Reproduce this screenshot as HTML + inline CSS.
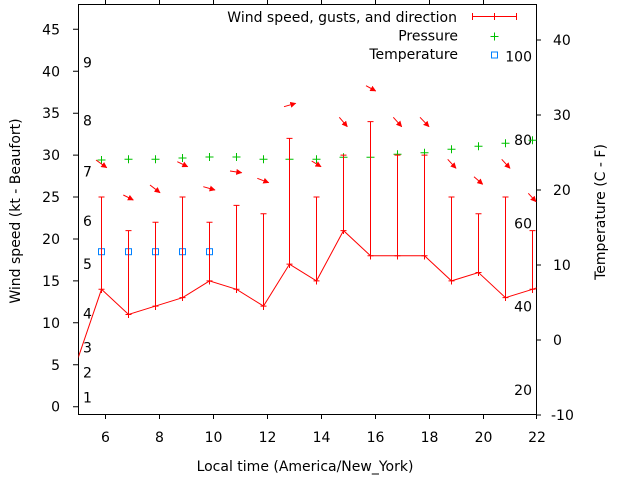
<!DOCTYPE html>
<html><head><meta charset="utf-8"><style>
html,body{margin:0;padding:0;background:#fff;}
svg{display:block;}
text{font-family:"DejaVu Sans","Liberation Sans",sans-serif;font-size:14px;fill:#000;}
</style></head><body>
<svg width="640" height="480" viewBox="0 0 640 480" xmlns="http://www.w3.org/2000/svg">
<defs>
<clipPath id="pc"><rect x="78.5" y="4.5" width="458" height="410"/></clipPath>
<marker id="ah" viewBox="0 0 10 10" refX="9" refY="5" markerWidth="6" markerHeight="6" markerUnits="userSpaceOnUse" orient="auto"><path d="M0,0 L10,5 L0,10 z" fill="#f00"/></marker>
</defs>
<rect width="640" height="480" fill="#fff"/>

<!-- frame -->
<g stroke="#000" stroke-width="1" fill="none">
<rect x="78.5" y="4.5" width="458" height="410"/>
<!-- left ticks -->
<path d="M73,406.7H78.5M73,364.8H78.5M73,322.8H78.5M73,280.9H78.5M73,239H78.5M73,197.05H78.5M73,155.1H78.5M73,113.2H78.5M73,71.3H78.5M73,29.3H78.5"/>
<!-- bottom ticks -->
<path d="M105.5,414.5V419M159.5,414.5V419M213.5,414.5V419M267.5,414.5V419M321.5,414.5V419M375.5,414.5V419M429.5,414.5V419M483.5,414.5V419M536.5,414.5V419"/>
<!-- top ticks -->
<path d="M105.5,0V4.5M159.5,0V4.5M213.5,0V4.5M267.5,0V4.5M321.5,0V4.5M375.5,0V4.5M429.5,0V4.5M483.5,0V4.5"/>
<!-- right ticks -->
<path d="M536.5,415H541M536.5,340H541M536.5,265H541M536.5,190H541M536.5,115H541M536.5,40H541"/>
</g>

<!-- left tick labels -->
<g text-anchor="end">
<text x="60" y="411.7">0</text>
<text x="60" y="369.8">5</text>
<text x="60" y="327.8">10</text>
<text x="60" y="285.9">15</text>
<text x="60" y="244">20</text>
<text x="60" y="202">25</text>
<text x="60" y="160.1">30</text>
<text x="60" y="118.2">35</text>
<text x="60" y="76.3">40</text>
<text x="60" y="34.3">45</text>
</g>
<!-- bottom tick labels -->
<g text-anchor="middle">
<text x="105.5" y="442">6</text>
<text x="159.5" y="442">8</text>
<text x="213.5" y="442">10</text>
<text x="267.5" y="442">12</text>
<text x="321.5" y="442">14</text>
<text x="375.5" y="442">16</text>
<text x="429.5" y="442">18</text>
<text x="483.5" y="442">20</text>
<text x="537" y="442">22</text>
</g>
<!-- right tick labels -->
<g>
<text x="551" y="420">-10</text>
<text x="553" y="345">0</text>
<text x="553" y="270">10</text>
<text x="553" y="195">20</text>
<text x="553" y="120">30</text>
<text x="553" y="45">40</text>
</g>
<!-- Fahrenheit labels -->
<g text-anchor="end">
<text x="532" y="61.7">100</text>
<text x="532" y="145">80</text>
<text x="532" y="228.3">60</text>
<text x="532" y="311.7">40</text>
<text x="532" y="395">20</text>
</g>
<!-- Beaufort labels -->
<g>
<text x="83" y="402.7">1</text>
<text x="83" y="377.7">2</text>
<text x="83" y="352.7">3</text>
<text x="83" y="318.5">4</text>
<text x="83" y="269">5</text>
<text x="83" y="226">6</text>
<text x="83" y="176.7">7</text>
<text x="83" y="125.7">8</text>
<text x="83" y="67.3">9</text>
</g>

<!-- axis titles -->
<text transform="translate(20,211) rotate(-90)" text-anchor="middle">Wind speed (kt - Beaufort)</text>
<text transform="translate(605,212) rotate(-90)" text-anchor="middle">Temperature (C - F)</text>
<text x="305" y="471" text-anchor="middle">Local time (America/New_York)</text>

<!-- legend -->
<g text-anchor="end">
<text x="457" y="22">Wind speed, gusts, and direction</text>
<text x="458" y="40.5">Pressure</text>
<text x="458" y="59">Temperature</text>
</g>
<g stroke="#f00" stroke-width="1" fill="none">
<path d="M472.5,16.5H516.5M472.5,13V20M516.5,13V20M494.5,13V20"/>
</g>
<path d="M490.5,36.5H498.5M494.5,32.5V40.5" stroke="#00c000" stroke-width="1" fill="none"/>
<rect x="491.5" y="52" width="6" height="6" stroke="#0080ff" stroke-width="1" fill="none"/>

<g clip-path="url(#pc)">
<!-- pressure -->
<g stroke="#00c000" stroke-width="1" fill="none">
<path d="M97.5,160H105.5M101.5,156V164"/>
<path d="M124.5,159.3H132.5M128.5,155.3V163.3"/>
<path d="M151.5,159.3H159.5M155.5,155.3V163.3"/>
<path d="M178.5,158H186.5M182.5,154V162"/>
<path d="M205.5,157H213.5M209.5,153V161"/>
<path d="M232.5,157H240.5M236.5,153V161"/>
<path d="M259.5,159.3H267.5M263.5,155.3V163.3"/>
<path d="M285.5,159.3H293.5M289.5,155.3V163.3"/>
<path d="M312.5,159.3H320.5M316.5,155.3V163.3"/>
<path d="M339.5,157.3H347.5M343.5,153.3V161.3"/>
<path d="M366.5,157.3H374.5M370.5,153.3V161.3"/>
<path d="M393.5,154.3H401.5M397.5,150.3V158.3"/>
<path d="M420.5,152.7H428.5M424.5,148.7V156.7"/>
<path d="M447.5,149.3H455.5M451.5,145.3V153.3"/>
<path d="M474.5,146.3H482.5M478.5,142.3V150.3"/>
<path d="M501.5,143.3H509.5M505.5,139.3V147.3"/>
<path d="M528.5,140.3H536.5M532.5,136.3V144.3"/>
</g>

<!-- temperature -->
<g stroke="#0080ff" stroke-width="1" fill="none">
<rect x="98.5" y="248.7" width="6" height="6"/>
<rect x="125.5" y="248.7" width="6" height="6"/>
<rect x="152.5" y="248.7" width="6" height="6"/>
<rect x="179.5" y="248.7" width="6" height="6"/>
<rect x="206.5" y="248.7" width="6" height="6"/>
</g>

<!-- wind speed line -->
<polyline fill="none" stroke="#f00" stroke-width="1" points="78,358.3 101.5,289.3 128.5,314.45 155.5,306.07 182.5,297.68 209.5,280.91 236.5,289.3 263.5,306.07 289.5,264.14 316.5,280.91 343.5,230.6 370.5,255.75 397.5,255.75 424.5,255.75 451.5,280.91 478.5,272.52 505.5,297.68 532.5,289.3 560,280"/>

<!-- gust error bars -->
<g stroke="#f00" stroke-width="1" fill="none">
<path d="M101.5,289.3V197.05M98.5,197.05H104.5M98.5,289.3H104.5M101.5,289.3V293"/>
<path d="M128.5,314.45V230.6M125.5,230.6H131.5M125.5,314.45H131.5M128.5,314.45V318"/>
<path d="M155.5,306.07V222.2M152.5,222.2H158.5M152.5,306.07H158.5M155.5,306.07V310"/>
<path d="M182.5,297.68V197.05M179.5,197.05H185.5M179.5,297.68H185.5M182.5,297.68V301"/>
<path d="M209.5,280.91V222.2M206.5,222.2H212.5M206.5,280.91H212.5M209.5,280.91V284.5"/>
<path d="M236.5,289.3V205.4M233.5,205.4H239.5M233.5,289.3H239.5M236.5,289.3V293"/>
<path d="M263.5,306.07V213.8M260.5,213.8H266.5M260.5,306.07H266.5M263.5,306.07V310"/>
<path d="M289.5,264.14V138.35M286.5,138.35H292.5M286.5,264.14H292.5M289.5,264.14V268"/>
<path d="M316.5,280.91V197.05M313.5,197.05H319.5M313.5,280.91H319.5M316.5,280.91V284.5"/>
<path d="M343.5,230.6V155.1M340.5,155.1H346.5M340.5,230.6H346.5M343.5,230.6V234"/>
<path d="M370.5,255.75V121.6M367.5,121.6H373.5M367.5,255.75H373.5M370.5,255.75V259.5"/>
<path d="M397.5,255.75V155.1M394.5,155.1H400.5M394.5,255.75H400.5M397.5,255.75V259.5"/>
<path d="M424.5,255.75V155.1M421.5,155.1H427.5M421.5,255.75H427.5M424.5,255.75V259.5"/>
<path d="M451.5,280.91V197.05M448.5,197.05H454.5M448.5,280.91H454.5M451.5,280.91V284.5"/>
<path d="M478.5,272.52V213.8M475.5,213.8H481.5M475.5,272.52H481.5M478.5,272.52V276"/>
<path d="M505.5,297.68V197.05M502.5,197.05H508.5M502.5,297.68H508.5M505.5,297.68V301"/>
<path d="M532.5,289.3V230.6M529.5,230.6H535.5M529.5,289.3H535.5M532.5,289.3V293"/>
</g>

<!-- direction arrows -->
<g stroke="#f00" stroke-width="1" fill="none" marker-end="url(#ah)">
<line x1="96" y1="160" x2="106.7" y2="167.7"/>
<line x1="123.3" y1="195" x2="133.3" y2="200"/>
<line x1="150" y1="185" x2="160" y2="192.7"/>
<line x1="177.3" y1="161.7" x2="187.7" y2="166.7"/>
<line x1="203.3" y1="186.7" x2="215" y2="190"/>
<line x1="230" y1="171" x2="241.7" y2="172.7"/>
<line x1="257.3" y1="178.3" x2="268.7" y2="182.7"/>
<line x1="284" y1="106.7" x2="295.7" y2="103.3"/>
<line x1="311.7" y1="161" x2="321" y2="166.7"/>
<line x1="339.3" y1="117.3" x2="347.3" y2="126.7"/>
<line x1="366" y1="85.7" x2="375.7" y2="91"/>
<line x1="393.3" y1="117.3" x2="401.7" y2="126.7"/>
<line x1="420" y1="117.3" x2="429" y2="126.7"/>
<line x1="447.7" y1="159.3" x2="456" y2="168.3"/>
<line x1="474" y1="176.7" x2="482.7" y2="184.3"/>
<line x1="501.7" y1="159.3" x2="510" y2="168.3"/>
<line x1="528.3" y1="193.3" x2="536" y2="201.7"/>
</g>
</g>
</svg>
</body></html>
